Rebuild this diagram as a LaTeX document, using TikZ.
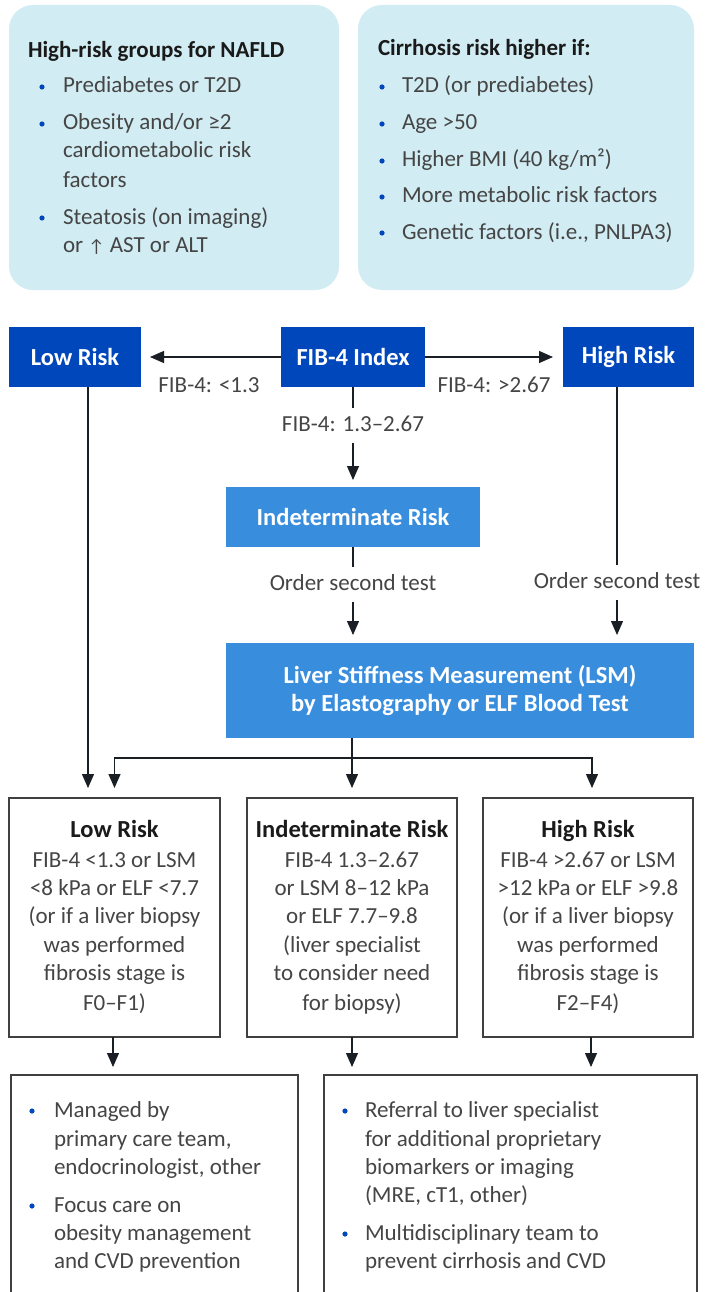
\documentclass[tikz,border=0pt]{standalone}
\usepackage{fontspec}
\setmainfont{Carlito}
\usetikzlibrary{arrows.meta}
\definecolor{darkblue}{HTML}{0047BB}
\definecolor{midblue}{HTML}{398DDD}
\definecolor{lightfill}{HTML}{D1ECF3}
\definecolor{bodytxt}{HTML}{454545}
\definecolor{headtxt}{HTML}{1A1A1A}
\definecolor{ink}{HTML}{1A1F26}
\definecolor{edgec}{HTML}{404040}
\newcommand{\nfont}{\fontsize{23}{28}\selectfont}
\newcommand{\hfont}{\fontsize{23}{28}\selectfont\bfseries}
\newcommand{\bfont}{\fontsize{24.5}{28}\selectfont\bfseries}
\begin{document}
\begin{tikzpicture}[x=1pt,y=-1pt,
  every node/.style={outer sep=0pt},
  lightbox/.style={fill=lightfill, rounded corners=24pt, draw=none},
  darkbox/.style={fill=darkblue, text=white, font=\bfont, inner sep=0pt},
  midbox/.style={fill=midblue, text=white, font=\bfont, inner sep=0pt, align=center},
  riskbox/.style={draw=edgec, line width=1.2pt, fill=white, inner sep=0pt},
  line/.style={text=bodytxt, font=\nfont, inner sep=0pt, anchor=base west},
  cline/.style={text=bodytxt, font=\nfont, inner sep=0pt, anchor=base},
  hline/.style={text=headtxt, font=\hfont, inner sep=0pt, anchor=base west},
  chline/.style={text=headtxt, font=\bfont, inner sep=0pt, anchor=base},
  lbl/.style={text=bodytxt, font=\nfont, inner xsep=0pt, inner ysep=7pt, anchor=base, text height=16pt, text depth=5pt},
  conn/.style={draw=ink, line width=1.2pt},
  arr/.style={conn, -{Triangle[length=14pt,width=12pt]}},
  bul/.style={fill=darkblue}
]
\useasboundingbox (0,0) rectangle (713,1292);
\fill[white] (0,0) rectangle (713,1292);

% ---------- top info boxes ----------
\node[lightbox, minimum width=330, minimum height=285] (infoL) at (174,147.5) {};
\node[lightbox, minimum width=336, minimum height=285] (infoR) at (526,147.5) {};

\node[hline] (hL) at (28,58) {High-risk groups for NAFLD};
\fill[bul] (42,87) circle (2.6);
\node[line] (l1) at (63,93) {Prediabetes or T2D};
\fill[bul] (42,124) circle (2.6);
\node[line] (l2) at (63,130) {Obesity and/or ≥2};
\node[line] (l3) at (63,158) {cardiometabolic risk};
\node[line] (l4) at (63,187) {factors};
\fill[bul] (42,218) circle (2.6);
\node[line] (l5) at (63,224) {Steatosis (on imaging)};
\node[line] (l6) at (63,252) {or {\fontsize{18}{28}\selectfont↑} AST or ALT};

\node[hline] (hR) at (378,56) {Cirrhosis risk higher if:};
\fill[bul] (382,87) circle (2.6);
\node[line] (r1) at (402,93) {T2D (or prediabetes)};
\fill[bul] (382,124) circle (2.6);
\node[line] (r2) at (402,130) {Age >50};
\fill[bul] (382,161) circle (2.6);
\node[line] (r3) at (402,167) {Higher BMI (40 kg/m²)};
\fill[bul] (382,197) circle (2.6);
\node[line] (r4) at (402,203) {More metabolic risk factors};
\fill[bul] (382,233) circle (2.6);
\node[line] (r5) at (402,239) {Genetic factors (i.e., PNLPA3)};

% ---------- FIB-4 row ----------
\node[darkbox, minimum width=132, minimum height=60] (low) at (75,357) {Low Risk};
\node[darkbox, minimum width=144, minimum height=60] (fib) at (353,357) {FIB-4 Index};
\node[darkbox, minimum width=131, minimum height=60] (high) at (628.5,357) {High Risk};

\draw[arr, shorten >=9pt] (fib.west) -- (low.east);
\draw[arr, shorten >=10pt] (fib.east) -- (high.west);
\node[cline] (lblLow) at (209,392) {FIB-4: <1.3};
\node[cline] (lblHigh) at (494,392) {FIB-4: >2.67};

\node[midbox, minimum width=254, minimum height=60] (ind) at (353,517) {Indeterminate Risk};
\node[lbl] (lblMid) at (353,431) {FIB-4: 1.3–2.67};
\draw[conn] (fib.south) -- (lblMid.north);
\draw[arr, shorten >=7pt] (lblMid.south) -- (ind.north);

\node[midbox, minimum width=468, minimum height=95] (lsm) at (460,690.5) {Liver Stiffness Measurement (LSM)\\[-0.5pt]by Elastography or ELF Blood Test};

\node[lbl] (ost1) at (353,590) {Order second test};
\draw[conn] (ind.south) -- (ost1.north);
\draw[arr, shorten >=8pt] (ost1.south) -- (ost1.south |- lsm.north);

\node[lbl] (ost2) at (617,588) {Order second test};
\draw[conn] (high.south -| ost2.north) -- (ost2.north);
\draw[arr, shorten >=8pt] (ost2.south) -- (ost2.south |- lsm.north);

% ---------- risk boxes ----------
\node[riskbox, minimum width=211, minimum height=239] (lowr) at (114.5,917.5) {};
\node[riskbox, minimum width=210, minimum height=239] (midr) at (352,917.5) {};
\node[riskbox, minimum width=210, minimum height=239] (highr) at (588,917.5) {};

\draw[arr, shorten >=10pt] ([xshift=13pt]low.south) -- ([xshift=13pt]low.south |- lowr.north);

\coordinate (split) at (352,758);
\draw[conn] (lsm.south -| midr.north) -- (split);
\draw[arr, shorten >=10pt] (split) -- (midr.north);
\draw[arr, shorten >=10pt] (split) -| (lowr.north);
\draw[arr, shorten >=10pt] (split) -| ([xshift=4pt]highr.north);

\node[chline] (t1) at (114.5,837) {Low Risk};
\node[cline] (t1a) at (114.5,867) {FIB-4 <1.3 or LSM};
\node[cline] (t1b) at (114.5,895) {<8 kPa or ELF <7.7};
\node[cline] (t1c) at (114.5,923) {(or if a liver biopsy};
\node[cline] (t1d) at (114.5,952) {was performed};
\node[cline] (t1e) at (114.5,980) {fibrosis stage is};
\node[cline] (t1f) at (114.5,1010) {F0–F1)};

\node[chline] (t2) at (352,837) {Indeterminate Risk};
\node[cline] (t2a) at (352,867) {FIB-4 1.3–2.67};
\node[cline] (t2b) at (352,895) {or LSM 8–12 kPa};
\node[cline] (t2c) at (352,923) {or ELF 7.7–9.8};
\node[cline] (t2d) at (352,952) {(liver specialist};
\node[cline] (t2e) at (352,980) {to consider need};
\node[cline] (t2f) at (352,1010) {for biopsy)};

\node[chline] (t3) at (588,837) {High Risk};
\node[cline] (t3a) at (588,867) {FIB-4 >2.67 or LSM};
\node[cline] (t3b) at (588,895) {>12 kPa or ELF >9.8};
\node[cline] (t3c) at (588,923) {(or if a liver biopsy};
\node[cline] (t3d) at (588,952) {was performed};
\node[cline] (t3e) at (588,980) {fibrosis stage is};
\node[cline] (t3f) at (588,1010) {F2–F4)};

% ---------- management boxes ----------
\node[inner sep=0pt, minimum width=287, minimum height=217] (mgL) at (154.5,1183.5) {};
\node[inner sep=0pt, minimum width=373, minimum height=217] (mgR) at (510.5,1183.5) {};
\draw[draw=edgec, line width=1.2pt] (mgL.south west) |- (mgL.north east) -- (mgL.south east);
\draw[draw=edgec, line width=1.2pt] (mgR.south west) |- (mgR.north east) -- (mgR.south east);

\draw[arr, shorten >=8pt] ([xshift=-1.5pt]lowr.south) -- ([xshift=-1.5pt]lowr.south |- mgL.north);
\draw[arr, shorten >=8pt] (midr.south) -- (midr.south |- mgR.north);
\draw[arr, shorten >=8pt] ([xshift=3pt]highr.south) -- ([xshift=3pt]highr.south |- mgR.north);

\fill[bul] (32,1111) circle (2.6);
\node[line] (m1) at (54,1117) {Managed by};
\node[line] (m2) at (54,1146) {primary care team,};
\node[line] (m3) at (54,1174) {endocrinologist, other};
\fill[bul] (32,1206) circle (2.6);
\node[line] (m4) at (54,1212) {Focus care on};
\node[line] (m5) at (54,1240) {obesity management};
\node[line] (m6) at (54,1268) {and CVD prevention};

\fill[bul] (345,1111) circle (2.6);
\node[line] (n1) at (365,1117) {Referral to liver specialist};
\node[line] (n2) at (365,1146) {for additional proprietary};
\node[line] (n3) at (365,1174) {biomarkers or imaging};
\node[line] (n4) at (365,1202) {(MRE, cT1, other)};
\fill[bul] (345,1234) circle (2.6);
\node[line] (n5) at (365,1240) {Multidisciplinary team to};
\node[line] (n6) at (365,1268) {prevent cirrhosis and CVD};
\end{tikzpicture}
\end{document}
